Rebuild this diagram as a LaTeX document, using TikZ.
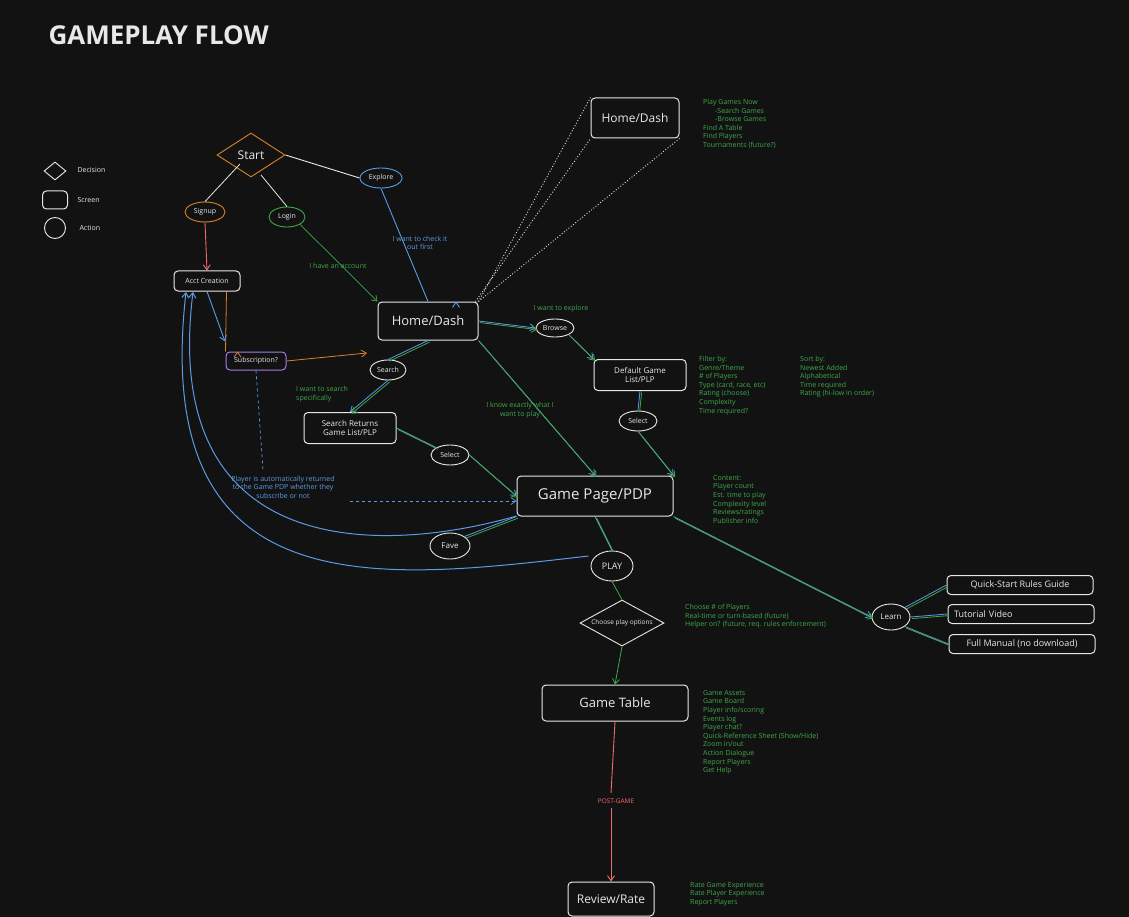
\documentclass[tikz,border=0pt]{standalone}
\usepackage{fontspec}
\setmainfont{Open Sans}
\usetikzlibrary{shapes.geometric,arrows.meta}
\definecolor{bg}{HTML}{121212}
\definecolor{gr}{HTML}{3FA84A}
\definecolor{bl}{HTML}{5B9BE6}
\definecolor{org}{HTML}{D9822B}
\definecolor{pur}{HTML}{A47BE8}
\definecolor{rd}{HTML}{F06B6B}
\definecolor{wh}{HTML}{E8E8E8}
\begin{document}
\begin{tikzpicture}[x=1pt,y=-1pt,
  scr/.style={draw=wh,rounded corners=4pt,line width=1pt,text=wh,align=center,inner sep=0pt,fill=bg},
  act/.style={draw=wh,ellipse,line width=0.9pt,text=wh,font=\fontsize{7}{8}\selectfont,inner sep=1pt,fill=bg},
  dec/.style={draw=wh,diamond,aspect=1.7,line width=0.9pt,text=wh,inner sep=1pt,fill=bg},
  note/.style={text=gr,font=\fontsize{7}{8.6}\selectfont,align=left,anchor=north west,inner sep=0pt},
  lab/.style={font=\fontsize{7}{8.6}\selectfont,align=center,inner sep=1pt},
  arr/.style={-{Straight Barb[length=5pt,width=7pt]}},
  every node/.append style={}]
\fill[bg] (0,0) rectangle (1129,917);
\useasboundingbox (0,0) rectangle (1129,917);
\newcommand{\dl}[3][]{\draw[bl,line width=0.8pt,#1] (#2) -- (#3); \draw[gr,line width=0.8pt,transform canvas={shift={(1.6pt,-1.6pt)}},#1] (#2) -- (#3);}
% title
\node[anchor=west,text=wh,font=\fontsize{26}{28}\selectfont\bfseries] (title) at (45,35) {GAMEPLAY FLOW};
% legend
\node[dec,minimum width=22,minimum height=18,aspect=1] (lg1) at (55,171) {};
\node[anchor=west,text=wh,font=\fontsize{7}{8}\selectfont] (lg1t) at (74,170) {Decision};
\node[scr,minimum width=25,minimum height=18] (lg2) at (55,200) {};
\node[anchor=west,text=wh,font=\fontsize{7}{8}\selectfont] (lg2t) at (74,200) {Screen};
\node[draw=wh,circle,line width=0.9pt,minimum size=21] (lg3) at (55,228) {};
\node[anchor=west,text=wh,font=\fontsize{7}{8}\selectfont] (lg3t) at (76,228) {Action};
% nodes
\node[dec,draw=org,minimum width=68,minimum height=44,font=\fontsize{12}{13}\selectfont] (start) at (251,155) {Start};
\node[act,draw=org,minimum width=40,minimum height=20] (signup) at (205,212) {Signup};
\node[act,draw=gr,minimum width=36,minimum height=20] (login) at (287,217) {Login};
\node[act,draw=bl,minimum width=42,minimum height=20] (explore) at (381,178) {Explore};
\node[scr,minimum width=66,minimum height=20,font=\fontsize{7}{8}\selectfont] (acct) at (207,281) {Acct Creation};
\node[scr,draw=pur,minimum width=60,minimum height=18,font=\fontsize{7}{8}\selectfont] (sub) at (256,361) {Subscription?};
\node[scr,minimum width=100,minimum height=38,font=\fontsize{13}{14}\selectfont] (home) at (428,321) {Home/Dash};
\node[scr,minimum width=88,minimum height=40,font=\fontsize{12}{13}\selectfont] (home2) at (635,118) {Home/Dash};
\node[act,minimum width=36,minimum height=20] (search) at (388,370) {Search};
\node[act,minimum width=38,minimum height=18] (browse) at (555,328) {Browse};
\node[scr,minimum width=92,minimum height=31,font=\fontsize{8}{9.5}\selectfont] (sret) at (350,428) {Search Returns\\Game List/PLP};
\node[scr,minimum width=92,minimum height=31,font=\fontsize{8}{9.5}\selectfont] (dgl) at (640,375) {Default Game\\List/PLP};
\node[act,minimum width=38,minimum height=20] (sel1) at (450,455) {Select};
\node[act,minimum width=38,minimum height=20] (sel2) at (638,421) {Select};
\node[scr,minimum width=156,minimum height=40,font=\fontsize{15}{16}\selectfont] (gp) at (595,496) {Game Page/PDP};
\node[act,minimum width=40,minimum height=26,font=\fontsize{8}{9}\selectfont] (fave) at (450,546) {Fave};
\node[act,minimum width=42,minimum height=30,font=\fontsize{9}{10}\selectfont] (play) at (612,566) {PLAY};
\node[dec,minimum width=84,minimum height=46,font=\fontsize{6.5}{7}\selectfont] (cpo) at (622,623) {Choose play options};
\node[scr,minimum width=146,minimum height=36,font=\fontsize{13}{14}\selectfont] (gt) at (615,703) {Game Table};
\node[scr,minimum width=86,minimum height=34,font=\fontsize{12}{13}\selectfont] (rr) at (611,899) {Review/Rate};
\node[act,minimum width=38,minimum height=26,font=\fontsize{8}{9}\selectfont] (learn) at (891,617) {Learn};
\node[scr,minimum width=146,minimum height=19,font=\fontsize{9}{10}\selectfont] (qs) at (1020,585) {Quick-Start Rules Guide};
\node[scr,minimum width=146,minimum height=19,font=\fontsize{9}{10}\selectfont,text width=134,align=left] (tv) at (1021,614) {Tutorial Video};
\node[scr,minimum width=146,minimum height=19,font=\fontsize{9}{10}\selectfont] (fm) at (1022,644) {Full Manual (no download)};
% connectors
\begin{scope}[on background layer/.style={}]
\draw[wh,line width=0.8pt] (start.south west) ++(6,-2) coordinate (sw1) -- (signup.north);
\draw[wh,line width=0.8pt] (start) ++(10,20) -- (login.north);
\draw[wh,line width=0.9pt] (start.east) -- (explore.west);
\draw[rd,arr,line width=0.9pt] (signup.south) -- (acct.north);
\draw[gr,arr,line width=0.7pt] (login.south east) -- (home.north west);
\draw[bl,arr,line width=0.9pt] (explore.south) -- (home.north) ++(28,0);
\draw[org,arr,line width=0.8pt] (acct.south east) ++(-14,0) coordinate (ao) -- (sub.north west) ++(12,0);
\draw[bl,arr,line width=0.9pt] (acct.south) -- ++(18,50);
\draw[org,arr,line width=0.8pt] (sub.east) -- (367,353);
\draw[bl,dashed,line width=0.7pt] (sub.south) -- (263,470);
\draw[bl,dashed,arr,line width=0.7pt] (350,501) -- (gp.west|-0,501);
\draw[wh,dotted,line width=0.9pt] (home.north east) -- (home2.north west);
\draw[wh,dotted,line width=0.9pt] (home.north east) ++(-3,0) -- (home2.south west);
\draw[wh,dotted,line width=0.9pt] (home.north east) -- (home2.south east);
\dl[arr]{home.east}{browse.west}
\draw[bl,line width=0.8pt] (browse) ; 
\dl[arr]{browse.south east}{dgl.north west}
\dl{home.south}{search.north}
\dl[arr]{search.south}{sret.north}
\dl{sret.east}{sel1.north west}
\dl[arr]{sel1.east}{gp.west}
\dl[arr]{home.south east}{gp.north}
\dl{dgl.south}{sel2.north}
\dl[arr]{sel2.south}{gp.north east}
\dl{fave.north east}{gp.south west}
\dl{gp.south}{play.north}
\dl[arr]{gp.south east}{learn.west}
\dl{learn.north east}{qs.west}
\dl{learn.east}{tv.west}
\dl{learn.south east}{fm.west}
\draw[bl,arr,line width=1pt] (gp.west) ++(0,20) .. controls (380,555) and (160,560) .. (193,292);
\draw[bl,arr,line width=1pt] (play.west) ++(-2,-10) .. controls (380,580) and (150,610) .. (186,292);
\draw[gr,line width=0.8pt] (play.south) -- (cpo.north);
\draw[gr,arr,line width=0.8pt] (cpo.south) -- (gt.north);
\draw[rd,line width=0.9pt] (gt.south) -- (611,793);
\draw[rd,arr,line width=0.9pt] (611,808) -- (rr.north);
\end{scope}
% labels
\node[lab,text=gr] (l1) at (338,266) {I have an account};
\node[lab,text=bl] (l2) at (420,243) {I want to check it\\out first};
\node[lab,text=gr] (l3) at (561,309) {I want to explore};
\node[lab,text=gr,align=left,anchor=west] (l4) at (295,394) {I want to search\\specifically};
\node[lab,text=gr] (l5) at (520,410) {I know exactly what I\\want to play};
\node[lab,text=bl] (l6) at (283,487) {Player is automatically returned\\to the Game PDP whether they\\subscribe or not};
\node[lab,text=rd,font=\fontsize{6.5}{8}\selectfont] (l7) at (616,801) {POST-GAME};
% notes
\node[note] (n1) at (703,99) {Play Games Now\\\hspace*{12pt}-Search Games\\\hspace*{12pt}-Browse Games\\Find A Table\\Find Players\\Tournaments (future?)};
\node[note] (n2) at (699,356) {Filter by:\\Genre/Theme\\\# of Players\\Type (card, race, etc)\\Rating (choose)\\Complexity\\Time required?};
\node[note] (n3) at (800,356) {Sort by:\\Newest Added\\Alphabetical\\Time required\\Rating (hi-low in order)};
\node[note] (n4) at (713,475) {Content:\\Player count\\Est. time to play\\Complexity level\\Reviews/ratings\\Publisher info};
\node[note] (n5) at (685,604) {Choose \# of Players\\Real-time or turn-based (future)\\Helper on? (future, req. rules enforcement)};
\node[note] (n6) at (703,690) {Game Assets\\Game Board\\Player info/scoring\\Events log\\Player chat?\\Quick-Reference Sheet (Show/Hide)\\Zoom in/out\\Action Dialogue\\Report Players\\Get Help};
\node[note] (n7) at (690,882) {Rate Game Experience\\Rate Player Experience\\Report Players};
\end{tikzpicture}
\end{document}
